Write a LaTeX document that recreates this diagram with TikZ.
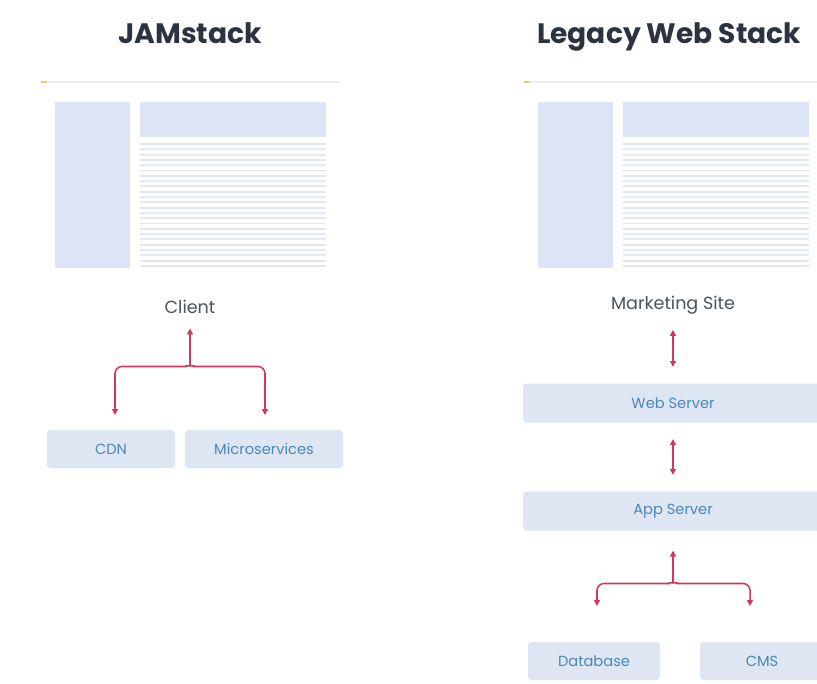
\documentclass[tikz,border=0pt]{standalone}
\usepackage{fontspec}
\setmainfont{Poppins}
\usetikzlibrary{arrows.meta}
\definecolor{ink}{HTML}{2B3340}
\definecolor{boxfill}{HTML}{DEE6F4}
\definecolor{boxtext}{HTML}{4A86B6}
\definecolor{link}{HTML}{D3365C}
\definecolor{pane}{HTML}{DCE4F5}
\definecolor{stripe}{HTML}{E1E8F5}
\definecolor{rule}{HTML}{EEEEEE}
\definecolor{dot}{HTML}{E8D36A}
\tikzset{
  title/.style={font=\fontsize{24}{28}\selectfont\bfseries, text=ink, anchor=base},
  label/.style={font=\fontsize{15}{18}\selectfont, text=ink!85},
  tier/.style={draw=none, fill=boxfill, rounded corners=3pt, text=boxtext,
    font=\fontsize{12.5}{15}\selectfont, inner sep=0pt},
  flow/.style={draw=link, line width=1.3pt, -{Triangle[length=5pt,width=5pt]}},
  both/.style={draw=link, line width=1.3pt, {Triangle[length=5pt,width=5pt]}-{Triangle[length=5pt,width=5pt]}},
}
% browser window mock-up; #1 = left edge of the page frame
\newcommand{\pagemock}[1]{%
  \draw[rule, line width=1pt] (#1,82) -- ++(300,0);
  \fill[dot] (#1+1,81) rectangle ++(6,2);
  \fill[pane] (#1+15,102) rectangle ++(75,166);
  \fill[pane] (#1+100,102) rectangle ++(186,35);
  \foreach \k in {0,...,23}
    \draw[stripe, line width=1.6pt] (#1+100,144+5.3*\k) -- ++(186,0);
}
\begin{document}
\begin{tikzpicture}[x=0.03cm, y=-0.03cm]
\useasboundingbox (0,0) rectangle (817,684);
\fill[white] (0,0) rectangle (817,684);

% ---------------- JAMstack ----------------
\node[title] (jtitle) at (190,44) {JAMstack};
\pagemock{40}
\node[label] (client) at (190,307) {Client};
\node[tier, minimum width=0.03cm*128, minimum height=0.03cm*38] (cdn) at (111,449) {CDN};
\node[tier, minimum width=0.03cm*158, minimum height=0.03cm*38] (micro) at (264,449) {Microservices};
\coordinate (jsplit) at (190,366);
\coordinate (cdnin) at (115,415);
\coordinate (microin) at (265,415);
\draw[flow, shorten >=9pt] (jsplit) -- (client.south);
\draw[flow, rounded corners=6pt] (jsplit) to[out=170,in=0] (180,366.5) -| (cdnin);
\draw[flow, rounded corners=6pt] (jsplit) to[out=10,in=180] (200,366.5) -| (microin);

% ---------------- Legacy Web Stack ----------------
\node[title] (ltitle) at (669,44) {Legacy Web Stack};
\pagemock{523}
\node[label] (site) at (673,305) {Marketing Site};
\node[tier, minimum width=0.03cm*300, minimum height=0.03cm*39] (web) at (673,403) {Web Server};
\node[tier, minimum width=0.03cm*300, minimum height=0.03cm*39] (app) at (673,511) {App Server};
\node[tier, minimum width=0.03cm*132, minimum height=0.03cm*38] (db) at (594,661) {Database};
\node[tier, minimum width=0.03cm*124, minimum height=0.03cm*38] (cms) at (762,661) {CMS};
\draw[both, shorten <=10pt, shorten >=14pt] (site.south) -- (web.north);
\draw[both, shorten <=14pt, shorten >=14pt] (web.south) -- (app.north);
\coordinate (lsplit) at (673,583);
\coordinate (dbin) at (597,606);
\coordinate (cmsin) at (750,606);
\draw[flow, shorten >=17pt] (lsplit) -- (app.south);
\draw[flow, rounded corners=6pt] (lsplit) to[out=170,in=0] (663,583.5) -| (dbin);
\draw[flow, rounded corners=6pt] (lsplit) to[out=10,in=180] (683,583.5) -| (cmsin);
\end{tikzpicture}
\end{document}
